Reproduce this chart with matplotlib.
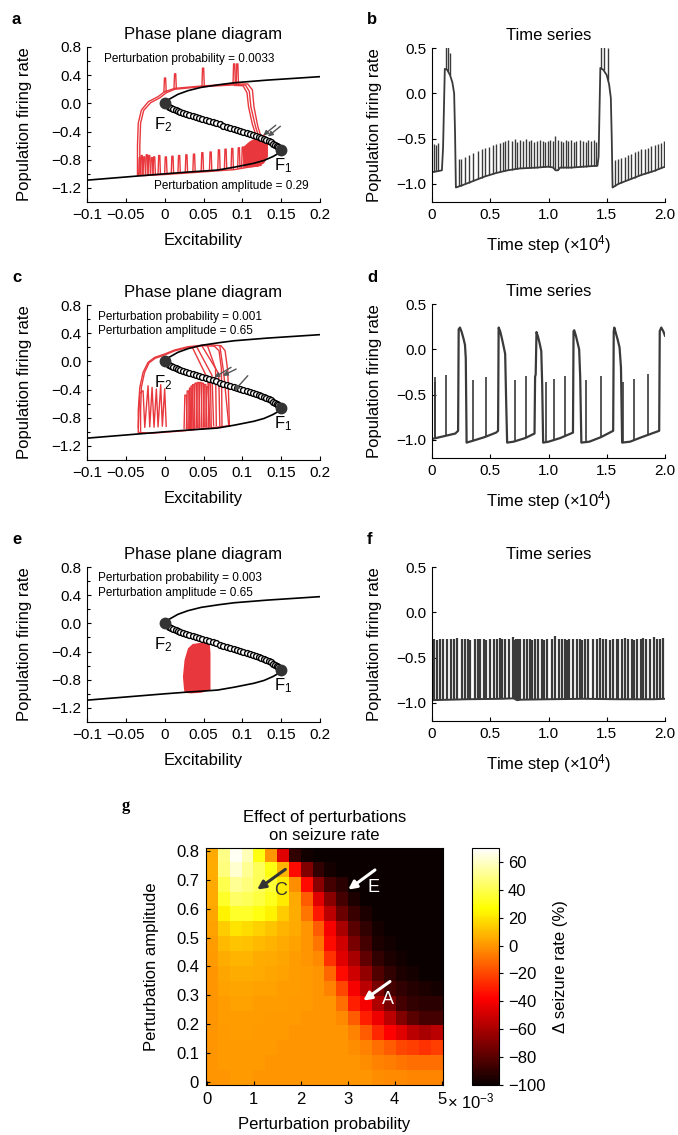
import numpy as np
import matplotlib.pyplot as plt

plt.rcParams['font.family'] = ['Liberation Sans', 'DejaVu Sans']
plt.rcParams['mathtext.fontset'] = 'custom'
plt.rcParams['mathtext.rm'] = 'Liberation Sans'
plt.rcParams['mathtext.it'] = 'Liberation Sans:italic'
plt.rcParams['xtick.direction'] = 'in'
plt.rcParams['ytick.direction'] = 'in'

RED = '#e8383d'
TRACE = '#3a3a3a'
FIXPT = '#333333'

# ---- bifurcation curve (shared by a, c, e) ----
upper_x = [0.0, 0.004, 0.017, 0.03, 0.047, 0.07, 0.09, 0.132, 0.2]
upper_y = [0.0, 0.047, 0.128, 0.18, 0.227, 0.265, 0.293, 0.33, 0.379]
lower_x = [0.15, 0.145, 0.139, 0.128, 0.115, 0.09, 0.068, 0.03, 0.0, -0.05, -0.1]
lower_y = [-0.66, -0.72, -0.757, -0.81, -0.85, -0.905, -0.947, -0.975, -1.0, -1.045, -1.09]
# unstable (middle) branch, one entry per open circle
middle_x = [0.0, 0.0012, 0.003, 0.0055, 0.008, 0.011, 0.014, 0.017, 0.020, 0.0238, 0.0275,
            0.0315, 0.036, 0.040, 0.044, 0.0485, 0.053, 0.0575, 0.062, 0.0665, 0.071, 0.0755,
            0.080, 0.0845, 0.089, 0.0935, 0.0975, 0.1015, 0.106, 0.110, 0.1135, 0.1175, 0.121,
            0.1245, 0.128, 0.131, 0.134, 0.137, 0.140, 0.1425, 0.1445, 0.1465, 0.148, 0.1493,
            0.150]
middle_y = [0.0, -0.015, -0.03, -0.045, -0.06, -0.075, -0.09, -0.105, -0.12, -0.135, -0.15,
            -0.165, -0.18, -0.195, -0.21, -0.225, -0.24, -0.255, -0.27, -0.285, -0.30, -0.315,
            -0.33, -0.345, -0.36, -0.375, -0.39, -0.405, -0.42, -0.435, -0.45, -0.465, -0.48,
            -0.495, -0.51, -0.525, -0.54, -0.555, -0.57, -0.585, -0.60, -0.615, -0.63, -0.645,
            -0.66]
fold_x = [0.15, 0.0]
fold_y = [-0.66, 0.0]

# ---- panel a trajectories ----
a_loop1_x = [0.124, 0.12, 0.115, 0.113, 0.107, 0.09, 0.047, 0.013, 0.0, -0.0085, -0.021, -0.03,
             -0.034, -0.035, -0.035, -0.026, 0.0, 0.047, 0.09, 0.111, 0.124]
a_loop1_y = [-0.47, -0.33, -0.05, 0.19, 0.275, 0.275, 0.246, 0.213, 0.166, 0.095, 0.024, -0.095,
             -0.28, -0.6, -1.02, -1.025, -1.01, -0.975, -0.94, -0.9, -0.88]
a_loop2_x = [0.121, 0.117, 0.111, 0.109, 0.104, 0.09, 0.047, 0.013, 0.002, -0.006, -0.018, -0.027,
             -0.031, -0.032, -0.032]
a_loop2_y = [-0.47, -0.33, -0.05, 0.17, 0.26, 0.262, 0.236, 0.2, 0.15, 0.08, 0.01, -0.1,
             -0.28, -0.6, -1.0]
a_loop3_x = [0.118, 0.113, 0.108, 0.106, 0.101, 0.09]
a_loop3_y = [-0.47, -0.3, -0.05, 0.15, 0.25, 0.255]
a_up_x = [-0.001, 0.012, 0.048, 0.088, 0.092]
a_up_base = [0.16, 0.21, 0.245, 0.27, 0.27]
a_up_top = [0.36, 0.42, 0.5, 0.56, 0.56]
a_low_x = [-0.0335, -0.031, -0.0278, -0.0245, -0.0214, -0.018, -0.015, -0.0085, 0.0, 0.0085,
           0.0171, 0.0265, 0.0363, 0.047, 0.0577, 0.0684, 0.0769, 0.0855, 0.094, 0.0991]
a_low_base = [-1.02, -1.02, -1.01, -1.01, -1.01, -1.0, -1.0, -1.0, -0.99, -0.99, -0.98, -0.98,
              -0.97, -0.96, -0.95, -0.94, -0.93, -0.93, -0.92, -0.91]
a_low_top = [-0.77, -0.74, -0.76, -0.73, -0.74, -0.77, -0.76, -0.74, -0.76, -0.75, -0.74, -0.73,
             -0.72, -0.7, -0.69, -0.66, -0.65, -0.64, -0.63, -0.62]
a_blob_x = [0.1016, 0.1016, 0.109, 0.12, 0.128, 0.133, 0.133, 0.128, 0.12, 0.11]
a_blob_y = [-0.905, -0.615, -0.544, -0.473, -0.44, -0.52, -0.757, -0.852, -0.9, -0.91]
a_arrow_tail = [(0.143, -0.31), (0.149, -0.325)]
a_arrow_head = [(0.127, -0.455), (0.133, -0.47)]

# ---- panel c trajectories ----
c_loop1_x = [0.0833, 0.0825, 0.0812, 0.0778, 0.0726, 0.0556, 0.03, 0.0128, 0.0, -0.0128, -0.0214,
             -0.0278, -0.032, -0.034, -0.034, -0.017, 0.0256, 0.064, 0.0833]
c_loop1_y = [-0.914, -0.559, -0.133, 0.151, 0.222, 0.237, 0.208, 0.161, 0.104, 0.057, -0.014,
             -0.156, -0.369, -0.7, -1.008, -1.02, -0.985, -0.937, -0.914]
c_loop2_x = [0.0738, 0.0735, 0.073, 0.07, 0.064, 0.05, 0.03, 0.013, 0.0, -0.012, -0.02, -0.026,
             -0.03, -0.031, -0.031]
c_loop2_y = [-0.92, -0.5, -0.1, 0.15, 0.215, 0.222, 0.195, 0.15, 0.09, 0.045, -0.02, -0.16,
             -0.37, -0.7, -0.99]
c_drop_x = [[0.0416, 0.061, 0.063], [0.048, 0.0696, 0.071], [0.071, 0.076, 0.0825],
            [0.036, 0.0555, 0.0584], [0.055, 0.0655, 0.0665]]
c_drop_y = [[0.2, -0.2, -0.91], [0.22, -0.175, -0.91], [0.22, -0.16, -0.91],
            [0.19, -0.25, -0.92], [0.225, -0.1, -0.91]]
c_zig_x = [-0.034, -0.032, -0.0278, -0.0256, -0.0214, -0.0192, -0.0162, -0.0137, -0.0107,
           -0.0085, -0.0051, -0.003, 0.0, 0.002]
c_zig_y = [-0.94, -0.45, -0.417, -0.937, -0.346, -0.93, -0.369, -0.935, -0.393, -0.93, -0.331,
           -0.92, -0.39, -0.92]
c_mid_x = [0.025, 0.028, 0.031, 0.033, 0.035, 0.038, 0.041, 0.044, 0.047, 0.05, 0.053, 0.056]
c_mid_base = [-0.95, -0.95, -0.95, -0.95, -0.95, -0.94, -0.94, -0.94, -0.93, -0.93, -0.93, -0.93]
c_mid_top = [-0.48, -0.42, -0.38, -0.35, -0.33, -0.31, -0.3, -0.3, -0.31, -0.33, -0.36, -0.3]
c_arrow_tail = [(0.0855, -0.085), (0.092, -0.109), (0.107, -0.204)]
c_arrow_head = [(0.064, -0.227), (0.0748, -0.204), (0.0897, -0.417)]

# ---- panel e ----
e_blob_x = [0.0248, 0.0235, 0.0256, 0.03, 0.036, 0.047, 0.058, 0.059, 0.059, 0.047, 0.034, 0.0256]
e_blob_y = [-0.923, -0.757, -0.52, -0.355, -0.293, -0.275, -0.275, -0.426, -0.947, -0.985, -0.994,
            -0.985]

# ---- panel b time series ----
b_t = [0.0, 0.05, 0.085, 0.095, 0.11, 0.13, 0.155, 0.175, 0.19, 0.198, 0.205, 0.25, 0.35, 0.45,
       0.55, 0.65, 0.75, 0.9, 1.0, 1.04, 1.06, 1.08, 1.1, 1.2, 1.3, 1.42, 1.43, 1.445, 1.47, 1.5,
       1.52, 1.535, 1.543, 1.55, 1.6, 1.7, 1.8, 1.9, 2.0]
b_y = [-0.87, -0.86, -0.85, -0.6, 0.27, 0.26, 0.2, 0.12, 0.0, -0.45, -1.04, -1.02, -0.97, -0.92,
       -0.88, -0.85, -0.83, -0.82, -0.81, -0.82, -0.85, -0.85, -0.82, -0.82, -0.81, -0.8, -0.7,
       0.28, 0.26, 0.2, 0.1, -0.05, -0.5, -1.04, -1.0, -0.95, -0.9, -0.86, -0.81]
b_spk_t = [0.017, 0.034, 0.05, 0.12, 0.137, 0.154,
           0.23, 0.246, 0.283, 0.32, 0.354, 0.397, 0.426, 0.454, 0.491, 0.526,
           0.549, 0.583, 0.606, 0.626, 0.654, 0.683, 0.711, 0.731, 0.754, 0.783,
           0.806, 0.829, 0.854, 0.874, 0.897, 0.926, 0.949, 0.969, 0.997, 1.017,
           1.04, 1.054, 1.083, 1.106, 1.126, 1.149, 1.169, 1.197, 1.217, 1.24,
           1.269, 1.297, 1.32, 1.34, 1.369, 1.389, 1.41,
           1.454, 1.474, 1.511,
           1.569, 1.597, 1.626, 1.654, 1.683, 1.711, 1.74, 1.769, 1.797, 1.826,
           1.854, 1.883, 1.911, 1.94, 1.969, 1.991]
b_spk_peak = [-0.56, -0.57, -0.55, 0.6, 0.6, 0.45,
              -0.73, -0.72, -0.7, -0.68, -0.66, -0.64, -0.62, -0.6, -0.59, -0.57,
              -0.56, -0.55, -0.54, -0.53, -0.52, -0.53, -0.51, -0.54, -0.52, -0.53,
              -0.51, -0.53, -0.52, -0.54, -0.53, -0.52, -0.53, -0.54, -0.53, -0.52,
              -0.53, -0.47, -0.52, -0.53, -0.54, -0.52, -0.53, -0.52, -0.54, -0.53,
              -0.52, -0.53, -0.54, -0.52, -0.53, -0.52, -0.54,
              0.6, 0.6, 0.5,
              -0.74, -0.72, -0.71, -0.7, -0.68, -0.67, -0.65, -0.64, -0.62, -0.61,
              -0.6, -0.58, -0.57, -0.56, -0.55, -0.53]

# ---- panel d time series ----
d_t = [0.0, 0.1, 0.2, 0.224,
       0.229, 0.24, 0.255, 0.27, 0.283, 0.29, 0.297,
       0.35, 0.45, 0.55, 0.567,
       0.572, 0.585, 0.6, 0.615, 0.628, 0.637, 0.645,
       0.7, 0.8, 0.88,
       0.885, 0.89, 0.897, 0.91, 0.925, 0.938, 0.946, 0.954,
       1.0, 1.1, 1.21,
       1.215, 1.221, 1.235, 1.25, 1.263, 1.272, 1.282,
       1.35, 1.45, 1.555,
       1.56, 1.565, 1.58, 1.595, 1.61, 1.622, 1.632,
       1.7, 1.8, 1.95,
       1.955, 1.968, 1.985, 2.0]
d_y = [-0.99, -0.96, -0.93, -0.9,
       0.22, 0.24, 0.19, 0.12, 0.05, -0.1, -1.03,
       -1.01, -0.97, -0.92, -0.9,
       0.24, 0.2, 0.12, 0.03, -0.05, -0.6, -1.03,
       -1.02, -0.98, -0.93,
       -0.3, -0.28, 0.19, 0.14, 0.06, -0.02, -0.4, -1.03,
       -1.02, -0.98, -0.92,
       0.2, 0.21, 0.15, 0.07, 0.0, -0.3, -1.03,
       -1.02, -0.97, -0.9,
       0.2, 0.24, 0.17, 0.1, 0.02, -0.2, -1.03,
       -1.02, -0.97, -0.9,
       0.2, 0.24, 0.2, 0.15]
d_spk_t = [0.026, 0.03, 0.12, 0.354, 0.463, 0.711, 0.806, 0.977, 1.046, 1.14, 1.326, 1.449,
           1.643, 1.734, 1.857]
d_spk_peak = [-0.31, -0.36, -0.28, -0.34, -0.31, -0.34, -0.3, -0.36, -0.33, -0.29, -0.34, -0.29,
              -0.36, -0.33, -0.27]

# ---- panel f time series ----
f_t = [0.0, 0.3, 0.6, 0.7, 0.73, 0.76, 1.0, 1.3, 1.6, 1.9, 2.0]
f_y = [-0.97, -0.96, -0.955, -0.95, -0.97, -0.965, -0.96, -0.955, -0.96, -0.96, -0.955]
f_spk_t = [0.02, 0.043, 0.066, 0.094, 0.129, 0.163, 0.191, 0.214, 0.257, 0.286,
           0.306, 0.329, 0.371, 0.391, 0.414, 0.443, 0.466, 0.5, 0.529, 0.557,
           0.58, 0.6, 0.629, 0.657, 0.694, 0.706, 0.723, 0.734, 0.757, 0.786,
           0.814, 0.843, 0.857, 0.886, 0.914, 0.943, 0.963, 0.986, 1.029, 1.057,
           1.086, 1.114, 1.143, 1.157, 1.18, 1.209, 1.243, 1.271, 1.286, 1.314,
           1.343, 1.38, 1.414, 1.443, 1.471, 1.494, 1.529, 1.557, 1.586, 1.6,
           1.629, 1.657, 1.686, 1.714, 1.734, 1.757, 1.791, 1.814, 1.837, 1.871,
           1.906, 1.929, 1.957, 1.986]
f_spk_peak = [-0.3, -0.31, -0.29, -0.3, -0.29, -0.3, -0.29, -0.28, -0.3, -0.29,
              -0.3, -0.31, -0.29, -0.3, -0.29, -0.3, -0.31, -0.29, -0.3, -0.29,
              -0.28, -0.3, -0.29, -0.3, -0.27, -0.31, -0.29, -0.3, -0.29, -0.3,
              -0.29, -0.3, -0.31, -0.29, -0.3, -0.29, -0.31, -0.3, -0.29, -0.26,
              -0.3, -0.29, -0.3, -0.31, -0.29, -0.3, -0.29, -0.3, -0.31, -0.29,
              -0.3, -0.29, -0.3, -0.28, -0.29, -0.3, -0.31, -0.29, -0.3, -0.29,
              -0.3, -0.28, -0.29, -0.3, -0.31, -0.29, -0.3, -0.28, -0.29, -0.3,
              -0.27, -0.29, -0.3, -0.28]

# ---- panel g heatmap: change in seizure rate (%), rows top (0.8) -> bottom (0) ----
prob_ticks = [0, 1, 2, 3, 4, 5]
amp_ticks = [0, 0.1, 0.2, 0.3, 0.4, 0.5, 0.6, 0.7, 0.8]
seizure_change = [
    [5, 50, 68, 58, 30, 0, -45, -90, -98, -100, -100, -100, -100, -100, -100, -100, -100, -100, -100, -100],
    [6, 48, 62, 52, 42, 30, 8, -35, -70, -90, -97, -100, -100, -100, -100, -100, -100, -100, -100, -100],
    [5, 40, 52, 48, 42, 36, 22, -2, -35, -68, -85, -92, -100, -100, -100, -100, -100, -100, -100, -100],
    [5, 34, 44, 42, 38, 32, 22, 5, -15, -45, -68, -85, -95, -100, -100, -100, -100, -100, -100, -100],
    [4, 24, 34, 34, 30, 24, 14, 6, -8, -32, -55, -75, -88, -95, -100, -100, -100, -100, -100, -100],
    [3, 14, 20, 18, 15, 12, 8, 5, 0, -15, -40, -60, -80, -90, -97, -100, -100, -100, -100, -100],
    [2, 9, 12, 11, 9, 7, 5, 3, 0, -8, -35, -50, -72, -85, -95, -98, -100, -100, -100, -100],
    [1, 6, 8, 8, 6, 5, 4, 2, 0, -3, -25, -45, -60, -78, -90, -95, -98, -100, -100, -100],
    [0, 4, 6, 6, 5, 4, 3, 2, 1, 0, -12, -35, -50, -65, -82, -90, -95, -97, -100, -100],
    [0, 3, 4, 4, 3, 3, 2, 2, 1, 0, -5, -20, -40, -55, -72, -85, -90, -93, -95, -97],
    [0, 2, 3, 3, 2, 2, 2, 1, 1, 0, 0, -10, -30, -40, -58, -72, -85, -90, -92, -92],
    [0, 2, 2, 2, 2, 1, 1, 1, 0, 0, 0, -3, -15, -30, -42, -55, -70, -80, -85, -85],
    [0, 1, 2, 2, 1, 1, 1, 0, 0, 0, 0, 0, -5, -15, -28, -38, -45, -55, -60, -55],
    [0, 1, 1, 1, 1, 1, 0, 0, 0, 0, 0, 0, -2, -5, -10, -15, -20, -22, -25, -22],
    [0, 1, 1, 1, 1, 0, 0, 0, 0, 0, 0, 0, 0, -2, -5, -6, -8, -10, -10, -10],
    [0, 0, 1, 1, 0, 0, 0, 0, 0, 0, 0, 0, 0, 0, -2, -3, -3, -4, -4, -4],
]
cbar_ticks = [60, 40, 20, 0, -20, -40, -60, -80, -100]
g_arrows = {'C': ((1.67, 0.736), (1.07, 0.666), (1.56, 0.664), '#333333'),
            'E': ((3.58, 0.734), (3.01, 0.666), (3.54, 0.672), 'white'),
            'A': ((3.9, 0.348), (3.33, 0.282), (3.86, 0.286), 'white')}

W, H = 678, 1135
fig = plt.figure(figsize=(W / 100, H / 100), dpi=100)


def px_axes(x0, y0, x1, y1):
    return fig.add_axes([x0 / W, 1 - y1 / H, (x1 - x0) / W, (y1 - y0) / H])


def letter(x, y, s, serif=False):
    fig.text(x / W, 1 - y / H, s, fontsize=12, fontweight='bold', ha='left', va='center',
             family='Liberation Serif' if serif else 'Liberation Sans')


def tents(ax, xs, bases, tops, w):
    for x, b, t in zip(xs, bases, tops):
        ax.plot([x, x + 0.25 * w, x + 0.75 * w, x + w], [b, t, t, b], color=RED, lw=1.0)


def phase_axes(top):
    ax = px_axes(87, top, 320, top + 155)
    ax.set_xlim(-0.1, 0.2)
    ax.set_ylim(-1.4, 0.8)
    ax.set_xticks([-0.1, -0.05, 0, 0.05, 0.1, 0.15, 0.2])
    ax.set_xticklabels(['\u22120.1', '\u22120.05', '0', '0.05', '0.1', '0.15', '0.2'])
    ax.set_yticks([0.8, 0.4, 0.0, -0.4, -0.8, -1.2])
    ax.set_yticklabels(['0.8', '0.4', '0.0', '\u22120.4', '\u22120.8', '\u22121.2'])
    ax.set_yticks([0.6, 0.2, -0.2, -0.6, -1.0], minor=True)
    ax.tick_params(labelsize=11, length=3, width=0.8, pad=4)
    ax.tick_params(which='minor', length=2, width=0.8)
    for s in ['top', 'right']:
        ax.spines[s].set_visible(False)
    ax.set_title('Phase plane diagram', fontsize=12, pad=6)
    ax.set_xlabel('Excitability', fontsize=12)
    ax.xaxis.set_label_coords(0.5, -0.2)
    ax.set_ylabel('Population firing rate', fontsize=12)
    ax.yaxis.set_label_coords(-0.235, 0.5)
    return ax


def draw_curve(ax):
    ax.plot(upper_x, upper_y, color='black', lw=1.2, zorder=3)
    ax.plot(lower_x, lower_y, color='black', lw=1.2, zorder=3)
    ax.plot(middle_x, middle_y, color='black', lw=1.0, marker='o', ms=4.2, mfc='white',
            mec='black', mew=1.0, zorder=4)
    ax.plot(fold_x, fold_y, 'o', color=FIXPT, ms=7.5, zorder=5)
    ax.text(-0.002, -0.3, r'F$_2$', fontsize=12, ha='center', va='center', zorder=6)
    ax.text(0.152, -0.89, r'F$_1$', fontsize=12, ha='center', va='center', zorder=6)


def arrows(ax, tails, heads):
    for t, h in zip(tails, heads):
        ax.annotate('', xy=h, xytext=t, zorder=7,
                    arrowprops=dict(arrowstyle='-|>', color='#555555', lw=1.0,
                                    mutation_scale=7, shrinkA=0, shrinkB=0))


def ts_axes(top):
    ax = px_axes(432, top, 665, top + 154)
    ax.set_xlim(0, 2.0)
    ax.set_ylim(-1.2, 0.5)
    ax.set_xticks([0, 0.5, 1.0, 1.5, 2.0])
    ax.set_xticklabels(['0', '0.5', '1.0', '1.5', '2.0'])
    ax.set_yticks([0.5, 0.0, -0.5, -1.0])
    ax.set_yticklabels(['0.5', '0.0', '\u22120.5', '\u22121.0'])
    ax.tick_params(labelsize=11, length=3, width=0.8, pad=4)
    for s in ['top', 'right']:
        ax.spines[s].set_visible(False)
    ax.set_title('Time series', fontsize=12, pad=6)
    ax.set_xlabel('Time step (\u00d710$^4$)', fontsize=12)
    ax.xaxis.set_label_coords(0.5, -0.2)
    ax.set_ylabel('Population firing rate', fontsize=12)
    ax.yaxis.set_label_coords(-0.215, 0.5)
    return ax


def trace(ax, t, y, spk_t, spk_peak, lw=1.3, slw=1.0):
    ax.plot(t, y, color=TRACE, lw=lw)
    base = np.interp(spk_t, t, y)
    ax.vlines(spk_t, base, spk_peak, color=TRACE, lw=slw)


# ---- a ----
ax = phase_axes(47)
for lx, ly in [(a_loop1_x, a_loop1_y), (a_loop2_x, a_loop2_y), (a_loop3_x, a_loop3_y)]:
    ax.plot(lx, ly, color=RED, lw=1.0)
tents(ax, a_up_x, a_up_base, a_up_top, 0.003)
tents(ax, a_low_x, a_low_base, a_low_top, 0.003)
ax.fill(a_blob_x, a_blob_y, color=RED, lw=0)
draw_curve(ax)
arrows(ax, a_arrow_tail, a_arrow_head)
ax.text(0.032, 0.625, 'Perturbation probability = 0.0033', fontsize=8.5, ha='center', va='center')
ax.text(0.0855, -1.18, 'Perturbation amplitude = 0.29', fontsize=8.5, ha='center', va='center')
letter(12, 20, 'a')

# ---- c ----
ax = phase_axes(305)
ax.plot(c_loop1_x, c_loop1_y, color=RED, lw=1.0)
ax.plot(c_loop2_x, c_loop2_y, color=RED, lw=1.0)
for xs, ys in zip(c_drop_x, c_drop_y):
    ax.plot(xs, ys, color=RED, lw=1.0)
ax.plot(c_zig_x, c_zig_y, color=RED, lw=1.0)
tents(ax, c_mid_x, c_mid_base, c_mid_top, 0.004)
draw_curve(ax)
arrows(ax, c_arrow_tail, c_arrow_head)
ax.text(-0.0855, 0.625, 'Perturbation probability = 0.001', fontsize=8.5, ha='left', va='center')
ax.text(-0.0855, 0.426, 'Perturbation amplitude = 0.65', fontsize=8.5, ha='left', va='center')
letter(12, 277, 'c')

# ---- e ----
ax = phase_axes(567)
ax.fill(e_blob_x, e_blob_y, color=RED, lw=0)
draw_curve(ax)
ax.text(-0.0855, 0.64, 'Perturbation probability = 0.003', fontsize=8.5, ha='left', va='center')
ax.text(-0.0855, 0.435, 'Perturbation amplitude = 0.65', fontsize=8.5, ha='left', va='center')
letter(12, 540, 'e')

# ---- b, d, f ----
ax = ts_axes(48)
trace(ax, b_t, b_y, b_spk_t, b_spk_peak)
letter(367, 19, 'b')

ax = ts_axes(304)
trace(ax, d_t, d_y, d_spk_t, d_spk_peak, lw=1.6, slw=1.2)
letter(367, 277, 'd')

ax = ts_axes(567)
trace(ax, f_t, f_y, f_spk_t, f_spk_peak, lw=1.4, slw=1.6)
letter(367, 540, 'f')

# ---- g ----
axg = px_axes(206, 848, 443, 1085)
im = axg.imshow(np.array(seizure_change), cmap='hot', vmin=-100, vmax=70, aspect='auto',
                interpolation='nearest', extent=[-0.02, 5.03, -0.01, 0.81], origin='upper')
axg.set_xlim(-0.02, 5.03)
axg.set_ylim(-0.01, 0.81)
axg.set_xticks(prob_ticks)
axg.set_xticklabels([str(v) for v in prob_ticks])
axg.set_yticks(amp_ticks)
axg.set_yticklabels(['0'] + ['%.1f' % v for v in amp_ticks[1:]])
axg.tick_params(labelsize=12, length=3, width=0.8, pad=5)
axg.set_title('Effect of perturbations\non seizure rate', fontsize=12, pad=6, linespacing=1.25)
axg.set_xlabel('Perturbation probability', fontsize=12)
axg.xaxis.set_label_coords(0.5, -0.135)
axg.set_ylabel('Perturbation amplitude', fontsize=12)
axg.yaxis.set_label_coords(-0.2, 0.5)
for lab, (tail, head, txt, col) in g_arrows.items():
    axg.annotate('', xy=head, xytext=tail,
                 arrowprops=dict(arrowstyle='-|>', color=col, lw=2.2, mutation_scale=12,
                                 shrinkA=0, shrinkB=0))
    axg.text(txt[0], txt[1], lab, color=col, fontsize=13, ha='center', va='center')
fig.text(447 / W, 1 - 1101 / H, '\u00d7 10$^{-3}$', fontsize=12, ha='left', va='center')

cax = px_axes(472, 848, 499, 1085)
cb = fig.colorbar(im, cax=cax)
cb.set_ticks(cbar_ticks)
cb.set_ticklabels([str(v).replace('-', '\u2212') for v in cbar_ticks])
cb.ax.tick_params(labelsize=12, length=3, width=0.8, direction='out')
cb.outline.set_linewidth(0.8)
fig.text(561 / W, 1 - 967 / H, '\u0394 seizure rate (%)', rotation=90, fontsize=12,
         ha='center', va='center')
letter(122, 806, 'g', serif=True)

fig.savefig('out.png', dpi=100)
